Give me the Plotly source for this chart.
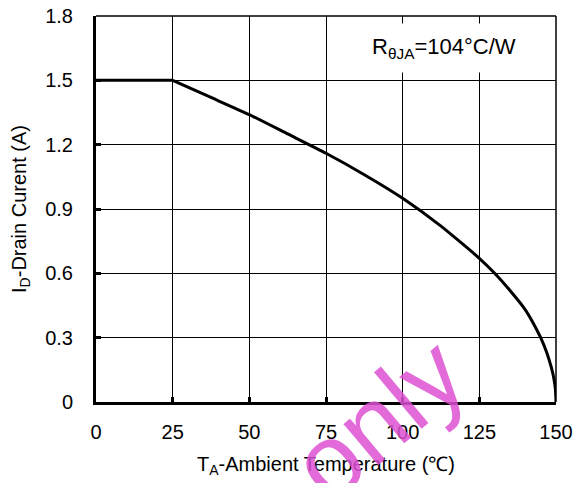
import plotly.graph_objects as go

# Data
flat_temp = [0, 25]
flat_drain = [1.5, 1.5]
temp_c = [25, 37.5, 50, 62.5, 75, 87.5, 100, 112.5, 125, 130, 135, 140, 142.5, 145, 147, 148.5, 149.3, 149.8, 150]
drain_a = [1.5, 1.42, 1.34, 1.25, 1.16, 1.06, 0.95, 0.82, 0.67, 0.60, 0.52, 0.43, 0.37, 0.30, 0.23, 0.16, 0.11, 0.06, 0.0]

x_ticks = [0, 25, 50, 75, 100, 125, 150]
y_ticks = [0, 0.3, 0.6, 0.9, 1.2, 1.5, 1.8]
y_tick_text = ["0", "0.3", "0.6", "0.9", "1.2", "1.5", "1.8"]

FONT = "Liberation Sans, Arial, sans-serif"

fig = go.Figure()
fig.add_trace(go.Scatter(
    x=flat_temp, y=flat_drain, mode="lines",
    line=dict(color="black", width=3),
    showlegend=False, hoverinfo="skip",
))
fig.add_trace(go.Scatter(
    x=temp_c, y=drain_a, mode="lines",
    line=dict(color="black", width=3, shape="spline", smoothing=0.5),
    showlegend=False, hoverinfo="skip",
))

axis_common = dict(
    showgrid=True, gridcolor="black", gridwidth=1.3,
    showline=True, linecolor="black", linewidth=3, mirror=False,
    ticks="inside", ticklen=5, tickwidth=3, tickcolor="black",
    zeroline=False, automargin=False, ticklabeloverflow="allow",
    tickfont=dict(family=FONT, size=20, color="black"),
)

fig.update_xaxes(
    range=[0, 150], tickvals=x_ticks, ticktext=[str(v) for v in x_ticks],
    title=dict(text="T<sub>A</sub>-Ambient Temperature (℃)", font=dict(family=FONT, size=20, color="black")),
    ticklabelstandoff=10,
    **axis_common,
)
fig.update_yaxes(
    range=[0, 1.8], tickvals=y_ticks, ticktext=y_tick_text,
    title=dict(text="I<sub>D</sub>-Drain Curent (A)", font=dict(family=FONT, size=20, color="black")),
    ticklabelstandoff=16,
    **axis_common,
)

# top and right frame lines
fig.add_shape(type="line", xref="paper", yref="paper", x0=0, x1=1, y0=1, y1=1,
              line=dict(color="black", width=1.5))
fig.add_shape(type="line", xref="paper", yref="paper", x0=1, x1=1, y0=0, y1=1,
              line=dict(color="black", width=1.5))

fig.add_annotation(
    x=113.5, y=1.65, xref="x", yref="y",
    text="R<sub>θJA</sub>=104°C/W", showarrow=False,
    font=dict(family=FONT, size=22, color="black"),
    bgcolor="white", borderpad=10,
)

# watermark
fig.add_annotation(
    x=0.615, y=-0.045, xref="paper", yref="paper",
    xanchor="center", yanchor="middle",
    text="only", showarrow=False, textangle=-40,
    font=dict(family=FONT, size=102, color="rgba(222,80,210,0.85)"),
)

fig.update_layout(
    width=579, height=475,
    margin=dict(l=88, r=31, t=8, b=81),
    paper_bgcolor="white", plot_bgcolor="white",
    font=dict(family=FONT, color="black"),
)

fig.write_html("out.html")
